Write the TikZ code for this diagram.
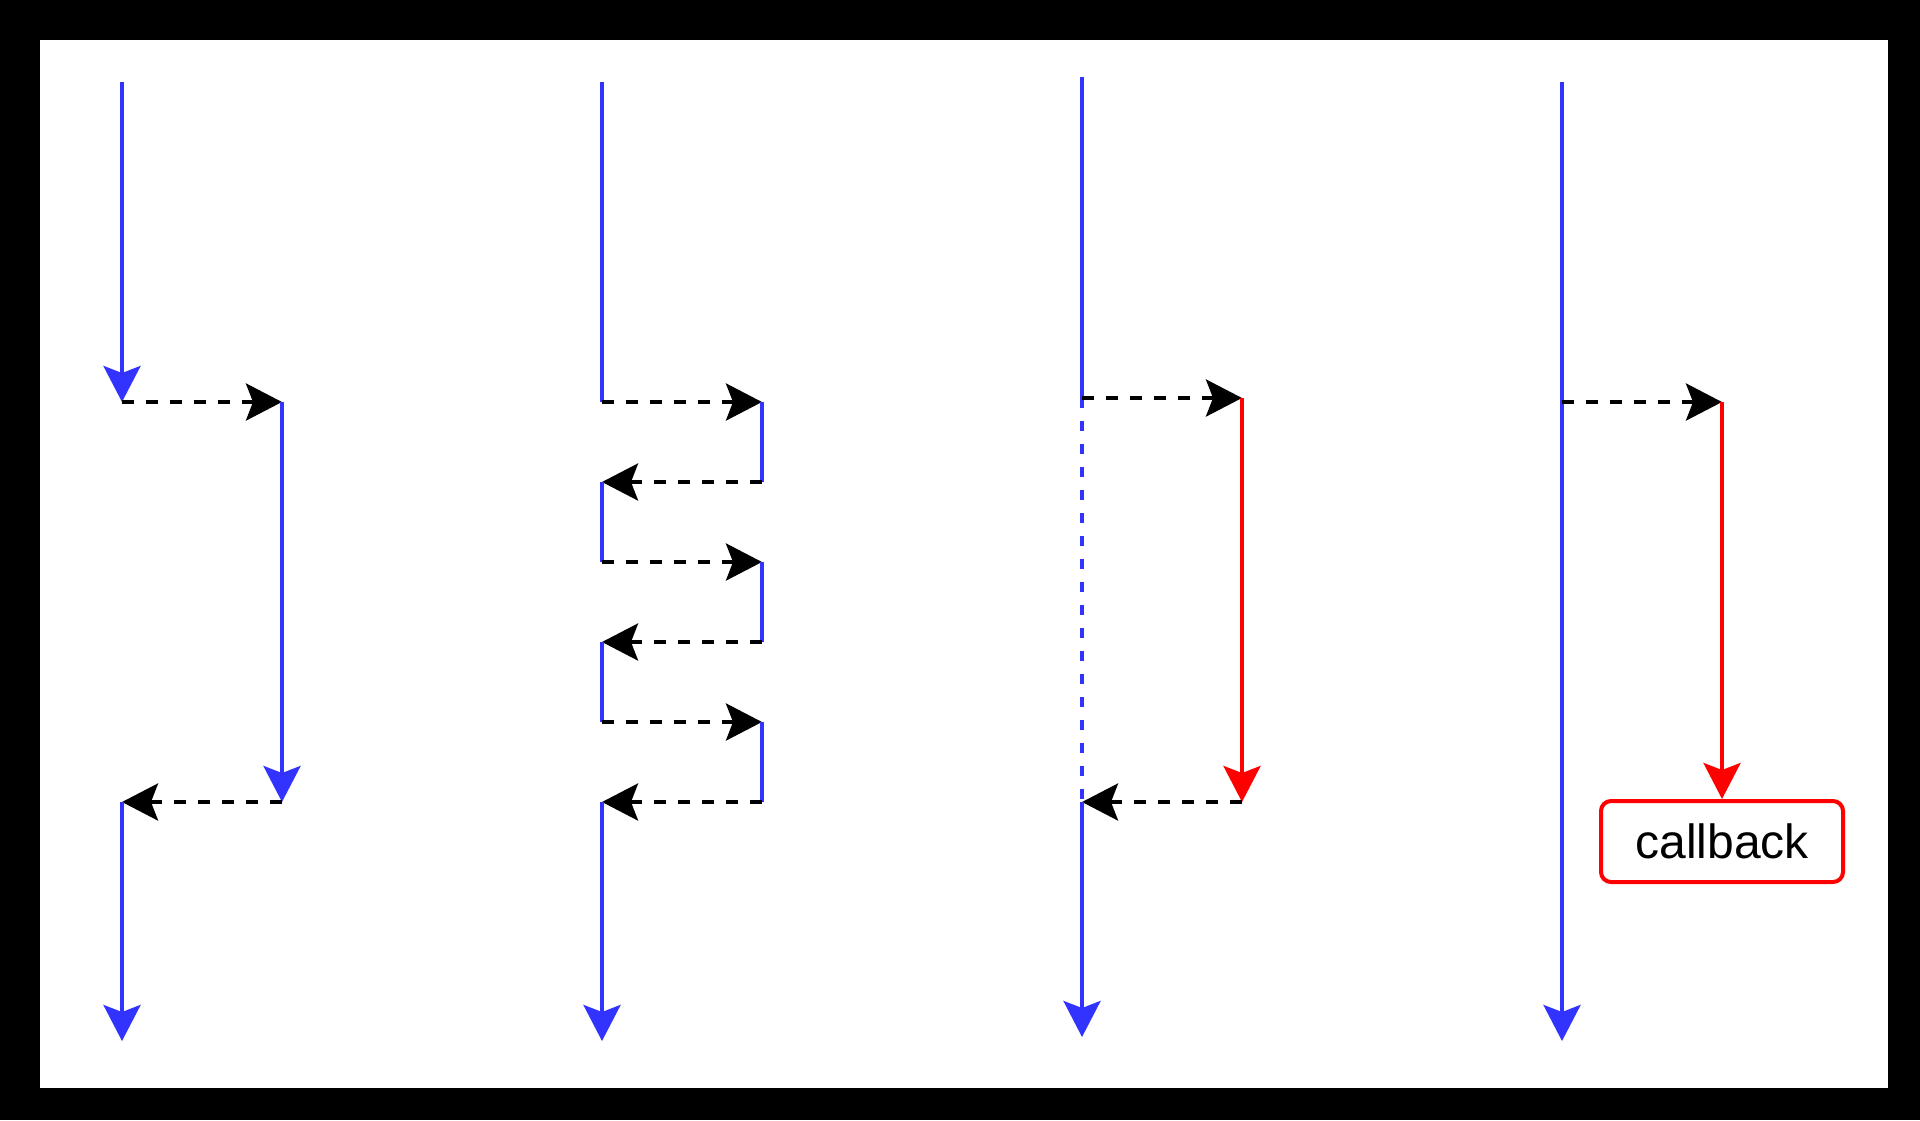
\documentclass[tikz,border=0pt]{standalone}
\usepackage{fontspec}
\setmainfont{Liberation Sans}
\usetikzlibrary{arrows.meta}
\definecolor{flowblue}{RGB}{51,51,255}
\definecolor{flowred}{RGB}{255,0,0}
\tikzset{
  tip/.style={-{Stealth[length=18pt,width=18.5pt,inset=3.5pt]}},
  flow/.style={flowblue,line width=2pt},
  flowarrow/.style={flow,tip},
  waitflow/.style={flow,dash pattern=on 5pt off 6.5pt},
  cb/.style={flowred,line width=2pt,tip},
  msg/.style={black,line width=2pt,dash pattern=on 6pt off 6pt,tip},
  cbbox/.style={draw=flowred,line width=2pt,rounded corners=5pt,fill=white,
    minimum width=121pt,minimum height=40.5pt,inner sep=0pt,font=\fontsize{24pt}{28pt}\selectfont}
}
\begin{document}
\begin{tikzpicture}[x=0.5pt,y=-0.5pt]
  % frame
  \fill[black] (0,0) rectangle (1920,1120);
  \fill[white] (40,40) rectangle (1888,1088);
  \useasboundingbox (0,0) rectangle (1920,1120);

  % --- blocking call ---
  \coordinate (a1top) at (122,82);
  \coordinate (a1) at (122,402);
  \coordinate (b1) at (282,402);
  \coordinate (b1end) at (282,802);
  \coordinate (a1ret) at (122,802);
  \coordinate (a1bot) at (122,1041);
  \draw[flowarrow] (a1top) -- (a1);
  \draw[msg] (a1) -- (b1);
  \draw[flowarrow] (b1) -- (b1end);
  \draw[msg] (b1end) -- (a1ret);
  \draw[flowarrow] (a1ret) -- (a1bot);

  % --- polling ---
  \coordinate (a2top) at (602,82);
  \coordinate (a2s1) at (602,402);
  \coordinate (b2s1) at (762,402);
  \coordinate (b2e1) at (762,482);
  \coordinate (a2e1) at (602,482);
  \coordinate (a2s2) at (602,562);
  \coordinate (b2s2) at (762,562);
  \coordinate (b2e2) at (762,642);
  \coordinate (a2e2) at (602,642);
  \coordinate (a2s3) at (602,722);
  \coordinate (b2s3) at (762,722);
  \coordinate (b2e3) at (762,802);
  \coordinate (a2e3) at (602,802);
  \coordinate (a2bot) at (602,1041);
  \draw[flow] (a2top) -- (a2s1);
  \draw[msg] (a2s1) -- (b2s1);
  \draw[flow] (b2s1) -- (b2e1);
  \draw[msg] (b2e1) -- (a2e1);
  \draw[flow] (a2e1) -- (a2s2);
  \draw[msg] (a2s2) -- (b2s2);
  \draw[flow] (b2s2) -- (b2e2);
  \draw[msg] (b2e2) -- (a2e2);
  \draw[flow] (a2e2) -- (a2s3);
  \draw[msg] (a2s3) -- (b2s3);
  \draw[flow] (b2s3) -- (b2e3);
  \draw[msg] (b2e3) -- (a2e3);
  \draw[flowarrow] (a2e3) -- (a2bot);

  % --- waiting for a callback ---
  \coordinate (a3top) at (1082,77);
  \coordinate (a3) at (1082,398);
  \coordinate (b3) at (1242,398);
  \coordinate (b3end) at (1242,802);
  \coordinate (a3ret) at (1082,802);
  \coordinate (a3bot) at (1082,1037);
  \draw[flow] (a3top) -- (a3);
  \draw[waitflow] (a3) -- (a3ret);
  \draw[msg] (a3) -- (b3);
  \draw[cb] (b3) -- (b3end);
  \draw[msg] (b3end) -- (a3ret);
  \draw[flowarrow] (a3ret) -- (a3bot);

  % --- non-blocking with callback ---
  \coordinate (a4top) at (1562,82);
  \coordinate (a4) at (1562,402);
  \coordinate (b4) at (1722,402);
  \coordinate (a4bot) at (1562,1041);
  \node[cbbox] (callback) at (1722,841.5) {callback};
  \draw[flowarrow] (a4top) -- (a4bot);
  \draw[msg] (a4) -- (b4);
  \draw[cb] (b4) -- (callback.north);
\end{tikzpicture}
\end{document}
